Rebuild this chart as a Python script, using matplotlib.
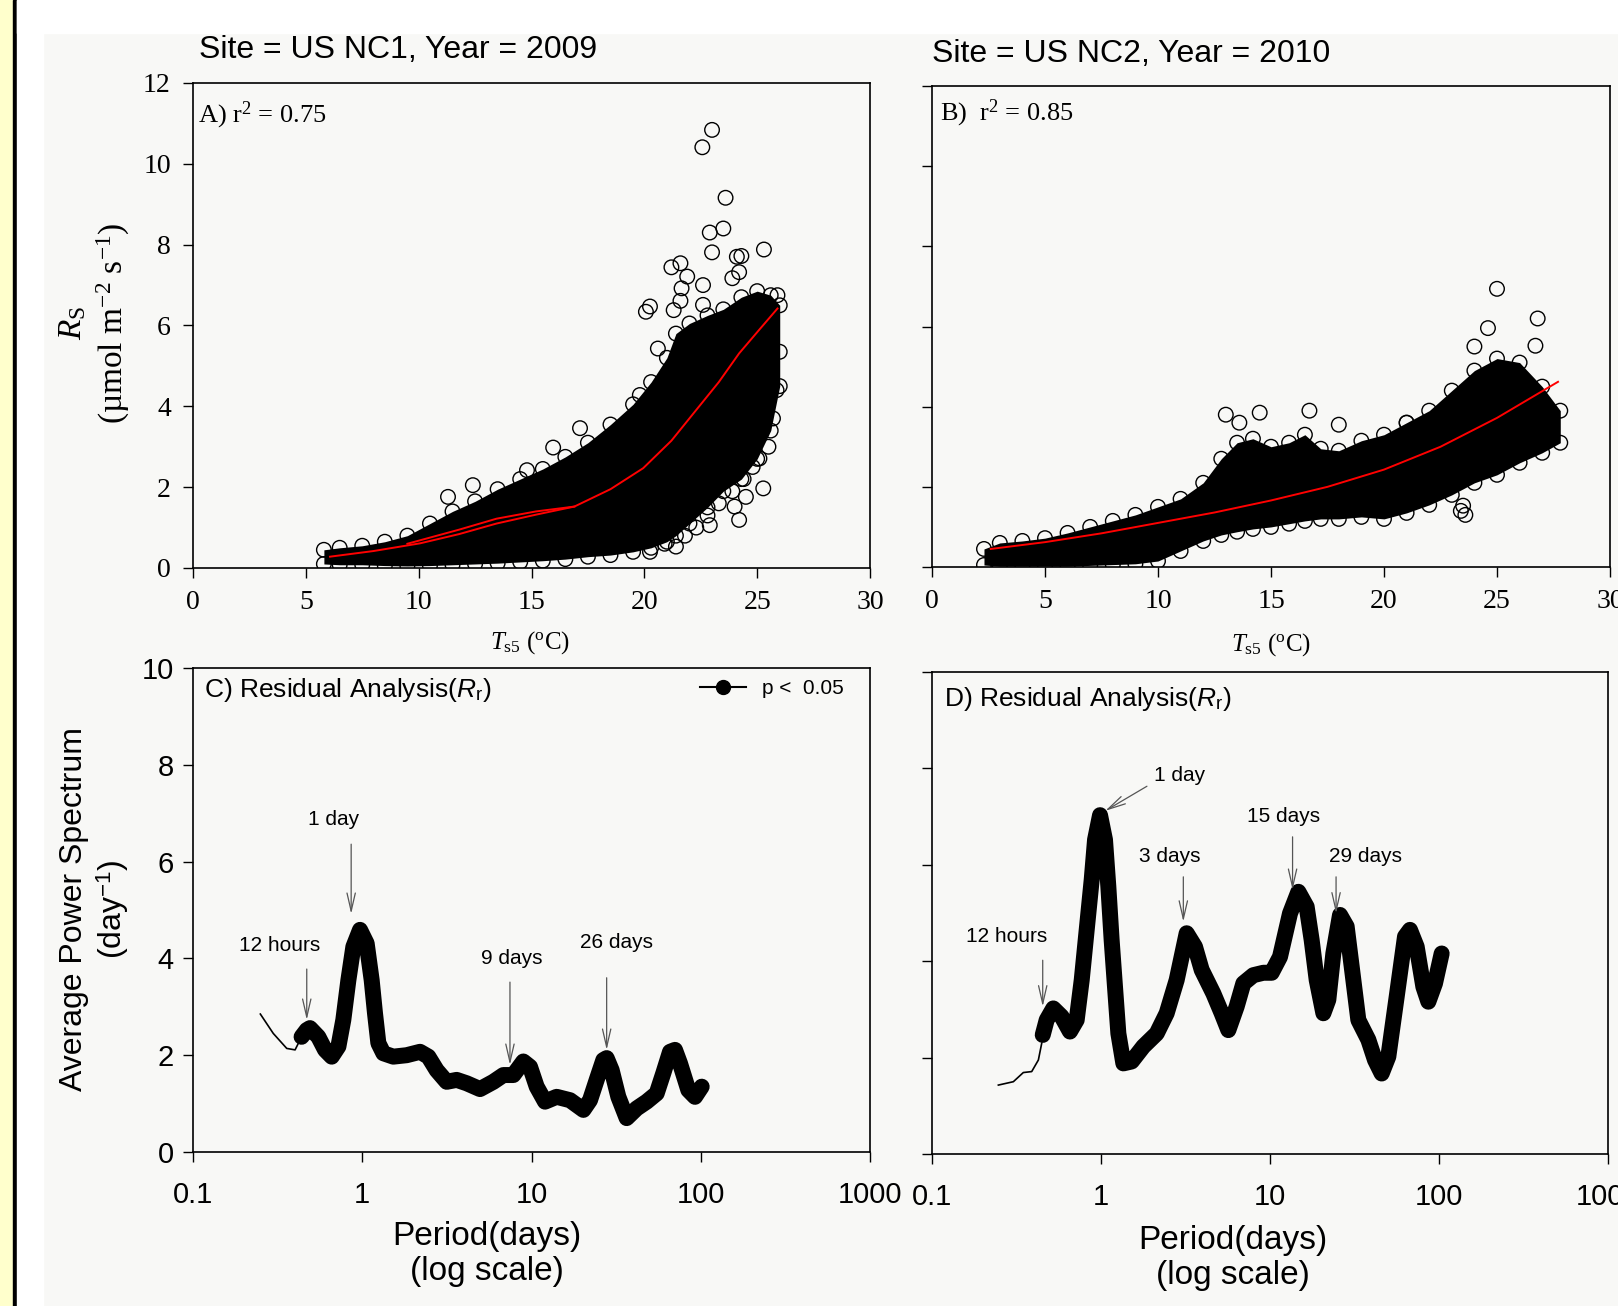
import matplotlib
matplotlib.use("Agg")
import matplotlib.pyplot as plt
from matplotlib.lines import Line2D
from matplotlib.patches import Rectangle

plt.rcParams['font.family'] = ['Liberation Sans', 'DejaVu Sans']
plt.rcParams['mathtext.fontset'] = 'custom'
plt.rcParams['mathtext.rm'] = 'Liberation Serif'
plt.rcParams['mathtext.it'] = 'Liberation Serif:italic'
plt.rcParams['mathtext.sf'] = 'Liberation Sans'
plt.rcParams['mathtext.cal'] = 'Liberation Sans:italic'

# ---- panel A: US NC1 2009, dense cloud envelope + visible circles ----
a_env_x = [5.8, 6.5, 7.5, 8.5, 9.5, 10.5, 11.5, 12.5, 13.5, 14.5, 15.5, 16.5, 17.5,
           18.5, 19.5, 20.3, 21.0, 21.4, 22.0, 22.8, 23.5, 24.3, 25.0, 25.6, 26.0]
a_env_hi = [0.45, 0.5, 0.55, 0.65, 0.8, 1.1, 1.4, 1.65, 1.95, 2.2, 2.45, 2.75, 3.1,
            3.55, 4.05, 4.6, 5.2, 5.8, 6.05, 6.25, 6.4, 6.7, 6.85, 6.75, 6.5]
a_env_lo = [0.1, 0.08, 0.08, 0.06, 0.05, 0.06, 0.08, 0.1, 0.12, 0.15, 0.18, 0.22, 0.28,
            0.32, 0.4, 0.5, 0.65, 0.8, 1.1, 1.5, 1.9, 2.2, 2.7, 3.4, 4.5]
a_out_x = [23.0, 22.57, 23.6, 22.9, 23.5, 23.0, 25.3, 24.1, 24.3, 21.2, 21.6, 24.2, 21.9,
           23.9, 22.6, 21.65, 21.6, 22.6, 20.07, 20.25, 21.3, 20.6, 17.15, 15.96, 14.8,
           12.4, 11.3, 19.8, 25.86, 25.27, 24.5, 24.0, 24.2, 22.9, 20.25, 21.4, 25.9,
           26.0, 25.1, 22.3, 22.8, 23.3, 23.9, 24.4, 24.8, 21.8, 20.9, 25.5, 25.7]
a_out_y = [10.84, 10.41, 9.16, 8.30, 8.40, 7.81, 7.88, 7.70, 7.72, 7.44, 7.54, 7.32, 7.21,
           7.17, 7.0, 6.92, 6.61, 6.51, 6.34, 6.47, 6.38, 5.43, 3.46, 2.98, 2.42,
           2.05, 1.76, 4.28, 4.40, 1.97, 1.76, 1.52, 1.19, 1.06, 0.40, 0.53, 6.75,
           5.35, 2.71, 1.0, 1.3, 1.6, 1.9, 2.2, 2.5, 0.8, 0.6, 3.0, 3.7]
a_fit_x = [6.07, 8.0, 10.06, 11.8, 13.45, 15.2, 16.9, 18.5, 19.95, 21.2, 22.3, 23.3, 24.2, 25.1, 25.9]
a_fit_y = [0.28, 0.42, 0.61, 0.84, 1.1, 1.32, 1.52, 1.95, 2.47, 3.15, 3.91, 4.6, 5.31, 5.9, 6.42]
a_fit2_x = [9.5, 11.8, 13.45, 15.2, 16.9]
a_fit2_y = [0.6, 0.95, 1.22, 1.4, 1.52]

# ---- panel B: US NC2 2010 ----
b_env_x = [2.3, 3, 4, 5, 6, 7, 8, 9, 10, 11, 12, 12.8, 13.5, 14.2, 15, 15.8, 16.5,
           17.2, 18, 19, 20, 21, 22, 23, 24, 25, 26, 27, 27.8]
b_env_hi = [0.45, 0.6, 0.65, 0.72, 0.85, 1.0, 1.15, 1.3, 1.5, 1.7, 2.1, 2.7, 3.1, 3.2,
            3.0, 3.1, 3.3, 2.95, 2.9, 3.15, 3.3, 3.6, 3.9, 4.4, 4.9, 5.2, 5.1, 4.5, 3.9]
b_env_lo = [0.05, 0.02, 0.02, 0.02, 0.02, 0.04, 0.06, 0.08, 0.15, 0.4, 0.65, 0.8, 0.88, 0.95,
            1.0, 1.08, 1.15, 1.2, 1.2, 1.25, 1.2, 1.35, 1.55, 1.8, 2.1, 2.3, 2.6, 2.85, 3.1]
b_out_x = [25.0, 26.8, 26.7, 24.6, 24.0, 23.5, 14.5, 13.0, 13.6, 16.7, 18.0, 21.0, 23.4, 23.6]
b_out_y = [6.94, 6.2, 5.52, 5.96, 5.5, 1.53, 3.85, 3.8, 3.6, 3.9, 3.55, 3.6, 1.4, 1.3]
b_fit_x = [2.6, 5.0, 7.5, 10.0, 12.5, 15.0, 17.5, 20.0, 22.5, 25.0, 27.7]
b_fit_y = [0.45, 0.62, 0.84, 1.1, 1.36, 1.66, 2.0, 2.43, 3.0, 3.72, 4.62]

# ---- panel C: wavelet residual spectrum NC1 ----
c_thin_x = [0.25, 0.298, 0.358, 0.401, 0.438]
c_thin_y = [2.85, 2.45, 2.14, 2.11, 2.38]
c_sig_x = [0.438, 0.470, 0.491, 0.550, 0.603, 0.660, 0.723, 0.773, 0.828, 0.886, 0.970,
           1.062, 1.137, 1.189, 1.245, 1.333, 1.526, 1.830, 2.194, 2.458, 2.753, 3.154,
           3.613, 4.140, 4.963, 5.950, 6.818, 7.811, 8.948, 9.80, 10.73, 12.02, 14.08,
           16.89, 20.25, 22.16, 24.27, 26.57, 27.80, 29.77, 32.59, 36.50, 41.82, 47.92,
           54.90, 60.11, 65.82, 70.44, 75.42, 84.46, 92.47, 101.3]
c_sig_y = [2.38, 2.52, 2.56, 2.38, 2.11, 1.97, 2.18, 2.73, 3.55, 4.24, 4.59,
           4.31, 3.55, 2.87, 2.25, 2.04, 1.97, 2.00, 2.07, 1.97, 1.69, 1.45,
           1.49, 1.42, 1.30, 1.45, 1.59, 1.59, 1.87, 1.76, 1.35, 1.04, 1.14,
           1.07, 0.87, 1.07, 1.49, 1.90, 1.94, 1.69, 1.14, 0.70, 0.90, 1.04,
           1.21, 1.63, 2.07, 2.11, 1.83, 1.28, 1.14, 1.35]

# ---- panel D: wavelet residual spectrum NC2 ----
d_thin_x = [0.247, 0.303, 0.347, 0.389, 0.426, 0.446]
d_thin_y = [1.43, 1.50, 1.69, 1.71, 1.95, 2.30]
d_sig_x = [0.452, 0.477, 0.522, 0.585, 0.655, 0.718, 0.769, 0.823, 0.881, 0.922, 0.987,
           1.056, 1.105, 1.156, 1.210, 1.267, 1.356, 1.519, 1.780, 2.136, 2.447, 2.804,
           3.213, 3.599, 3.942, 4.622, 5.176, 5.669, 6.351, 6.955, 7.969, 9.132, 10.23,
           11.46, 13.13, 14.72, 16.48, 17.64, 18.89, 20.69, 22.14, 23.70, 25.96, 28.42,
           30.43, 33.32, 38.18, 41.81, 45.79, 50.14, 56.17, 62.92, 67.34, 73.79, 80.80,
           86.49, 94.69, 103.7]
d_sig_y = [2.47, 2.78, 3.02, 2.85, 2.54, 2.78, 3.61, 4.65, 5.69, 6.52, 7.03,
           6.52, 5.55, 4.44, 3.47, 2.50, 1.88, 1.92, 2.23, 2.50, 2.92, 3.61,
           4.58, 4.30, 3.82, 3.33, 2.92, 2.57, 3.06, 3.54, 3.71, 3.76, 3.76,
           4.09, 4.99, 5.44, 5.13, 4.44, 3.61, 2.92, 3.20, 4.16, 4.96, 4.72,
           3.89, 2.78, 2.37, 1.95, 1.67, 2.02, 3.26, 4.51, 4.65, 4.30, 3.47,
           3.16, 3.54, 4.16]

# annotations: label, text pos, arrow start, arrow tip
c_notes = [("12 hours", (0.327, 4.26), (0.47, 3.78), (0.47, 2.73)),
           ("1 day", (0.68, 6.88), (0.86, 6.36), (0.86, 4.92)),
           ("9 days", (7.64, 3.99), (7.46, 3.51), (7.46, 1.80)),
           ("26 days", (31.6, 4.32), (27.8, 3.60), (27.8, 2.11))]
d_notes = [("12 hours", (0.278, 4.52), (0.452, 4.02), (0.452, 3.06)),
           ("1 day", (2.93, 7.86), (1.87, 7.63), (1.06, 7.12)),
           ("3 days", (2.56, 6.18), (3.07, 5.75), (3.07, 4.82)),
           ("15 days", (12.1, 7.0), (13.6, 6.58), (13.6, 5.48)),
           ("29 days", (36.5, 6.18), (24.6, 5.75), (24.6, 4.99))]

W, H = 1618, 1306
fig = plt.figure(figsize=(W / 100, H / 100), dpi=100, facecolor='#f8f8f6')
# decoration: yellow strip + black bar at the left, white margins
fig.patches.append(Rectangle((0, 0), 13 / W, 1, transform=fig.transFigure, color='#ffffcc', zorder=-5))
fig.patches.append(Rectangle((13 / W, 0), 4 / W, 1, transform=fig.transFigure, color='black', zorder=-5))
fig.patches.append(Rectangle((17 / W, 1 - 33 / H), 1, 33 / H, transform=fig.transFigure, color='white', zorder=-5))
fig.patches.append(Rectangle((17 / W, 0), 26 / W, 1, transform=fig.transFigure, color='white', zorder=-5))


def px_axes(l, r, t, b):
    return fig.add_axes([l / W, 1 - b / H, (r - l) / W, (b - t) / H])


axA = px_axes(193, 870, 83, 568)
axB = px_axes(932, 1610, 86, 567)
axC = px_axes(193, 870, 668, 1152)
axD = px_axes(932, 1608, 672, 1154)

serif = 'Liberation Serif'


def scatter_panel(ax, ex, hi, lo, ox, oy, fits):
    ax.set_facecolor('none')
    ax.fill_between(ex, lo, hi, color='black', lw=0, zorder=2)
    kw = dict(s=110, facecolors='none', edgecolors='black', linewidths=1.0, zorder=3)
    ax.scatter(ex, hi, **kw)
    ax.scatter(ex, lo, **kw)
    ax.scatter(ox, oy, **kw)
    for fx, fy in fits:
        ax.plot(fx, fy, color='red', lw=1.4, zorder=4)
    ax.set_xlim(0, 30)
    ax.set_ylim(0, 12)
    ax.set_xticks(range(0, 31, 5))
    ax.set_yticks(range(0, 13, 2))
    ax.tick_params(direction='out', length=7, width=1, labelsize=20, pad=9)
    for lab in ax.get_xticklabels() + ax.get_yticklabels():
        lab.set_fontfamily(serif)
    for sp in ax.spines.values():
        sp.set_linewidth(1.2)


scatter_panel(axA, a_env_x, a_env_hi, a_env_lo, a_out_x, a_out_y,
              [(a_fit_x, a_fit_y), (a_fit2_x, a_fit2_y)])
scatter_panel(axB, b_env_x, b_env_hi, b_env_lo, b_out_x, b_out_y, [(b_fit_x, b_fit_y)])
axB.tick_params(labelleft=False)

axA.text(0.008, 0.933, "A) r$^2$ = 0.75", transform=axA.transAxes, fontsize=19,
         family=serif, ha='left', va='center')
axB.text(0.012, 0.943, "B)  r$^2$ = 0.85", transform=axB.transAxes, fontsize=19,
         family=serif, ha='left', va='center')

fig.text(199 / W, 1 - 50 / H, "Site = US NC1, Year = 2009", fontsize=23, ha='left', va='center')
fig.text(932 / W, 1 - 54 / H, "Site = US NC2, Year = 2010", fontsize=23, ha='left', va='center')

fig.text(95 / W, 1 - 323 / H, "$\\mathit{R}_\\mathrm{S}$\n(\u00b5mol m$^{-2}$ s$^{-1}$)",
         rotation=90, ha='center', va='center', fontsize=24, family=serif,
         multialignment='center', linespacing=1.25)
fig.text(530 / W, 1 - 643 / H, "$\\mathit{T}_\\mathrm{s5}$ ($^\\mathrm{o}$C)",
         ha='center', va='center', fontsize=18, family=serif)
fig.text(1271 / W, 1 - 645 / H, "$\\mathit{T}_\\mathrm{s5}$ ($^\\mathrm{o}$C)",
         ha='center', va='center', fontsize=18, family=serif)


def spectrum_panel(ax, tx, ty, sx, sy, notes, tag):
    ax.set_facecolor('none')
    ax.plot(tx, ty, color='black', lw=1.2, zorder=3)
    ax.plot(sx, sy, color='black', lw=11.5, solid_capstyle='round',
            solid_joinstyle='round', zorder=3)
    ax.set_xscale('log')
    ax.set_xlim(0.1, 1000)
    ax.set_ylim(0, 10)
    ax.set_xticks([0.1, 1, 10, 100, 1000])
    ax.set_xticklabels(['0.1', '1', '10', '100', '1000'])
    ax.minorticks_off()
    ax.set_yticks(range(0, 11, 2))
    ax.tick_params(direction='out', length=7, width=1, labelsize=21)
    ax.tick_params(axis='x', pad=14)
    ax.tick_params(axis='y', pad=7)
    for sp in ax.spines.values():
        sp.set_linewidth(1.2)
    for label, tpos, start, tip in notes:
        ax.annotate('', xy=tip, xytext=start,
                    arrowprops=dict(arrowstyle='->,head_length=1.3,head_width=0.3',
                                    color='#555555', lw=0.9, shrinkA=0, shrinkB=0))
        ax.text(tpos[0], tpos[1], label, fontsize=15, ha='center', va='center')
    ax.text(0.016, 0.955, tag + ") Residual Analysis($\\mathcal{R}_\\mathsf{r}$)",
            transform=ax.transAxes, fontsize=19, ha='left', va='center')


spectrum_panel(axC, c_thin_x, c_thin_y, c_sig_x, c_sig_y, c_notes, "C")
spectrum_panel(axD, d_thin_x, d_thin_y, d_sig_x, d_sig_y, d_notes, "D")
axD.tick_params(labelleft=False)
axD.texts[-1].set_position((0.018, 0.944))

axC.legend(handles=[Line2D([], [], color='black', lw=1.5, marker='o', ms=10)],
           labels=['p <  0.05'], loc='upper right', bbox_to_anchor=(0.968, 0.985),
           frameon=False, fontsize=15, handlelength=2.2, borderpad=0.2, borderaxespad=0)

fig.text(95 / W, 1 - 909 / H, "Average Power Spectrum\n(day$^{\\mathsf{-1}}$)",
         rotation=90, ha='center', va='center', fontsize=23, multialignment='center',
         linespacing=1.15)
fig.text(487 / W, 1 - 1254 / H, "Period(days)\n(log scale)", ha='center', va='center',
         fontsize=24, linespacing=1.2)
fig.text(1233 / W, 1 - 1258 / H, "Period(days)\n(log scale)", ha='center', va='center',
         fontsize=24, linespacing=1.2)

fig.savefig('out.png', dpi=100, facecolor=fig.get_facecolor())
